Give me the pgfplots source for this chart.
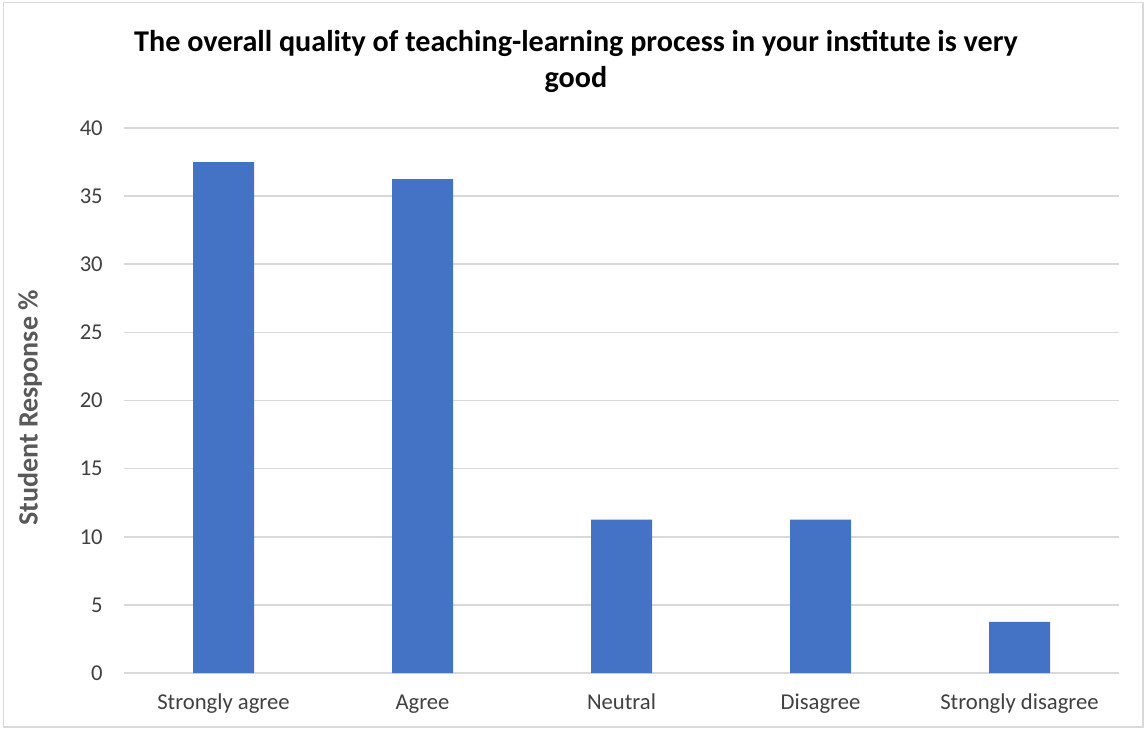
\documentclass[border=0pt]{standalone}
\usepackage{pgfplots}
\pgfplotsset{compat=1.18}
\usepackage{fontspec}
\setmainfont{Carlito}
\definecolor{barblue}{HTML}{4472C4}
\definecolor{gridgray}{HTML}{D9D9D9}
\definecolor{txtgray}{HTML}{595959}
\definecolor{ticktxt}{HTML}{404040}
\begin{document}
\begin{tikzpicture}
\useasboundingbox (0,0) rectangle (859.5pt,546.75pt);
\draw[gridgray, line width=1pt] (2.5pt,1.5pt) rectangle (857.25pt,545pt);
\node[anchor=base, inner sep=0pt, font=\bfseries\fontsize{22.6}{26}\selectfont] at (432pt,507.75pt) {The overall quality of teaching-learning process in your institute is very};
\node[anchor=base, inner sep=0pt, font=\bfseries\fontsize{22.6}{26}\selectfont] at (432pt,481pt) {good};
\node[rotate=90, inner sep=0pt, font=\bfseries\fontsize{21}{25}\selectfont, text=txtgray] at (22.5pt,240.75pt) {Student Response \%};
\begin{axis}[
  at={(93pt,42pt)}, anchor=south west,
  scale only axis, width=746.25pt, height=408.75pt,
  xmin=-0.5, xmax=4.5, ymin=0, ymax=40,
  ytick={0,5,...,40},
  xtick={0,1,2,3,4},
  xticklabels={Strongly agree, Agree, Neutral, Disagree, Strongly disagree},
  ymajorgrids,
  grid style={gridgray, line width=1.2pt},
  axis line style={draw=none},
  major tick length=0pt,
  tick label style={font=\fontsize{17}{20}\selectfont, text=ticktxt, inner sep=0pt},
  yticklabel style={anchor=east, xshift=-15.75pt},
  xticklabel style={anchor=base, yshift=-27pt},
  /pgf/number format/assume math mode=true,
  ybar, bar width=45.75pt,
]
\addplot[fill=barblue, draw=none] coordinates {(0,37.5) (1,36.25) (2,11.25) (3,11.25) (4,3.75)};
\end{axis}
\end{tikzpicture}
\end{document}
